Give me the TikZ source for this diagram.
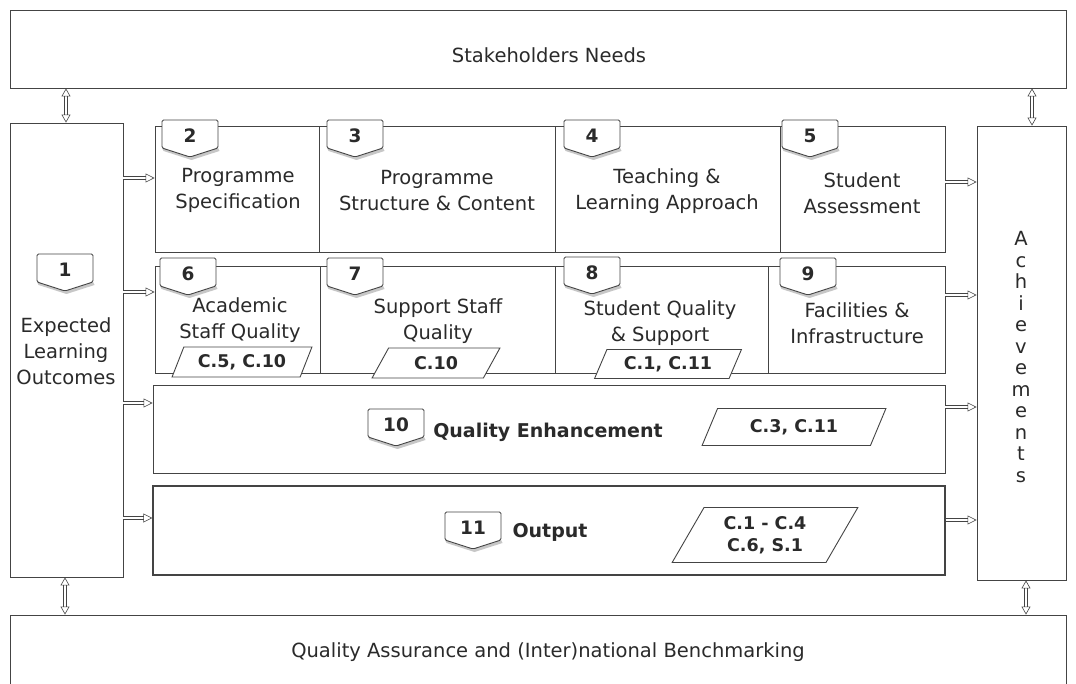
\documentclass[tikz,border=0pt]{standalone}
\usepackage{fontspec}
\setmainfont{DejaVu Sans}
\usetikzlibrary{arrows.meta,shapes.geometric,fit}
\definecolor{ln}{HTML}{444444}
\definecolor{tx}{HTML}{2A2A2A}
\newcommand\numtag[5]{%
  \fill[black!22] ({#2-#4/2+1.5},#3+31) -- (#2+1.5,#3+40) -- ({#2+#4/2+1.5},#3+31) -- ({#2+#4/2},#3+28) -- (#2,#3+37) -- ({#2-#4/2},#3+28) -- cycle;
  \draw[tagline] ({#2-#4/2},#3) -- ({#2+#4/2},#3) -- ({#2+#4/2},#3+28) -- (#2,#3+37) -- ({#2-#4/2},#3+28) -- cycle;
  \node[tagnum] (#1) at (#2,#3+16) {#5};}
\begin{document}
\begin{tikzpicture}[x=1pt,y=-1pt,
  rbox/.style={draw=ln, line width=0.9pt, inner sep=0pt},
  lbl/.style={text=tx, align=center, font=\fontsize{19.5}{26}\selectfont},
  blbl/.style={text=tx, align=center, font=\bfseries\fontsize{19}{23}\selectfont},
  tagline/.style={draw=ln, line width=0.9pt, fill=white, rounded corners=1.5pt},
  tagnum/.style={text=tx, font=\bfseries\fontsize{18.5}{20}\selectfont},
  para/.style={trapezium, trapezium left angle=60, trapezium right angle=120, trapezium stretches=true, draw=ln, line width=0.9pt, fill=white, text=tx, align=center, inner sep=0pt, font=\bfseries\fontsize{17.5}{22}\selectfont},
  dar/.style={draw=ln, line width=0.6pt, double=white, double distance=2pt, -{Triangle[open, length=9pt, width=9pt]}},
  vdar/.style={draw=ln, line width=0.6pt, double=white, double distance=2pt, {Triangle[open, length=8pt, width=9pt]}-{Triangle[open, length=8pt, width=9pt]}}
]
\useasboundingbox (0,0) rectangle (1076,684);
\fill[white] (0,0) rectangle (1076,684);

% boxes
\node[rbox, fit={(10,10)(1066,88)}] (top) {};
\node[rbox, fit={(10,123)(123,577)}] (b1) {};
\node[rbox, fit={(155,126)(319,252)}] (b2) {};
\node[rbox, fit={(319,126)(555,252)}] (b3) {};
\node[rbox, fit={(555,126)(780,252)}] (b4) {};
\node[rbox, fit={(780,126)(945,252)}] (b5) {};
\node[rbox, fit={(155,266)(320,373)}] (b6) {};
\node[rbox, fit={(320,266)(555,373)}] (b7) {};
\node[rbox, fit={(555,266)(768,373)}] (b8) {};
\node[rbox, fit={(768,266)(945,373)}] (b9) {};
\node[rbox, fit={(153,385)(945,473)}] (b10) {};
\node[rbox, line width=1.3pt, fit={(153,486)(945,575)}] (b11) {};
\node[rbox, fit={(977,126)(1066,580)}] (ach) {};
\node[rbox, fit={(10,615)(1066,700)}] (bot) {};

% texts
\node[lbl] (tTop) at (549,55) {Stakeholders Needs};
\node[lbl] (tBot) at (548,652) {Quality Assurance and (Inter)national Benchmarking};
\node[lbl] (t1) at (66,351) {Expected\\Learning\\Outcomes};
\node[lbl] (t2) at (238,190) {Programme\\Specification};
\node[lbl] (t3) at (437,191) {Programme\\Structure \& Content};
\node[lbl] (t4) at (667,191) {Teaching \&\\Learning Approach};
\node[lbl] (t5) at (862,193) {Student\\Assessment};
\node[lbl] (t6) at (240,320) {Academic\\Staff Quality};
\node[lbl] (t7) at (438,321) {Support Staff\\Quality};
\node[lbl] (t8) at (660,323) {Student Quality\\\& Support};
\node[lbl] (t9) at (857,323) {Facilities \&\\Infrastructure};
\node[blbl] (t10) at (548,432) {Quality Enhancement};
\node[blbl] (t11) at (550,532) {Output};
\node[lbl, font=\fontsize{19.5}{21.5}\selectfont] (tach) at (1021,357) {A\\c\\h\\i\\e\\v\\e\\m\\e\\n\\t\\s};

% tags
\numtag{n1}{65}{254}{56}{1}
\numtag{n2}{190}{120}{56}{2}
\numtag{n3}{355}{120}{56}{3}
\numtag{n4}{592}{120}{56}{4}
\numtag{n5}{810}{120}{56}{5}
\numtag{n6}{188}{258}{56}{6}
\numtag{n7}{355}{258}{56}{7}
\numtag{n8}{592}{257}{56}{8}
\numtag{n9}{808}{258}{56}{9}
\numtag{n10}{396}{409}{56}{10}
\numtag{n11}{473}{512}{56}{11}

% criteria
\node[para, minimum width=140pt, minimum height=30pt] (p6) at (242,362) {C.5, C.10};
\node[para, minimum width=128pt, minimum height=30pt] (p7) at (436,363) {C.10};
\node[para, minimum width=147pt, minimum height=29pt] (p8) at (668,364) {C.1, C.11};
\node[para, minimum width=184pt, minimum height=37pt] (p10) at (794,427) {C.3, C.11};
\node[para, minimum width=186pt, minimum height=55pt] (p11) at (765,535) {C.1 - C.4\\C.6, S.1};

% arrows left
\draw[dar] (b1.east |- {(0,178)}) -- (b2.west |- {(0,178)});
\draw[dar] (b1.east |- {(0,292)}) -- (b6.west |- {(0,292)});
\draw[dar] (b1.east |- {(0,403)}) -- (b10.west |- {(0,403)});
\draw[dar] (b1.east |- {(0,518)}) -- (b11.west |- {(0,518)});
% arrows right
\draw[dar] (b5.east |- {(0,182)}) -- (ach.west |- {(0,182)});
\draw[dar] (b9.east |- {(0,295)}) -- (ach.west |- {(0,295)});
\draw[dar] (b10.east |- {(0,407)}) -- (ach.west |- {(0,407)});
\draw[dar] (b11.east |- {(0,520)}) -- (ach.west |- {(0,520)});
% vertical double arrows
\draw[vdar] (top.south -| {(66,0)}) -- (b1.north -| {(66,0)});
\draw[vdar] (top.south -| {(1032,0)}) -- (ach.north -| {(1032,0)});
\draw[vdar] (b1.south -| {(65,0)}) -- (bot.north -| {(65,0)});
\draw[vdar] (ach.south -| {(1026,0)}) -- (bot.north -| {(1026,0)});
\end{tikzpicture}
\end{document}
